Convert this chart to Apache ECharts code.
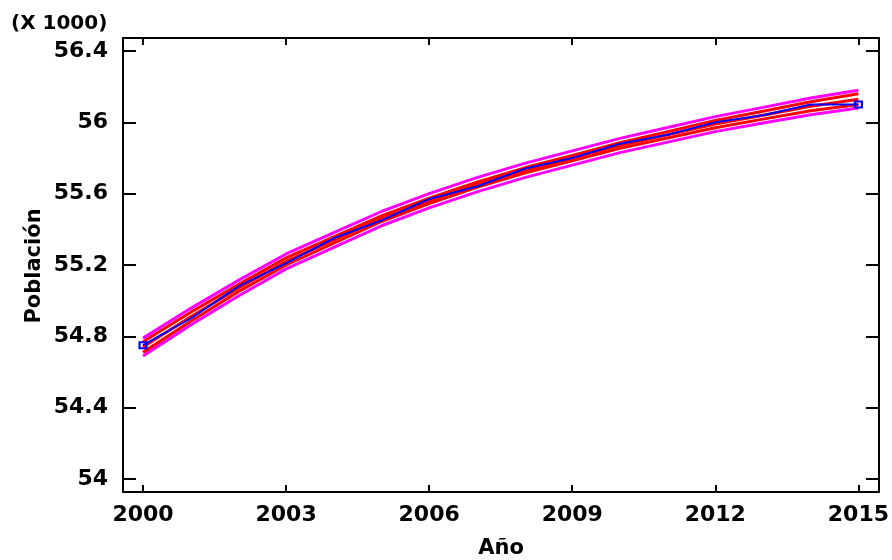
<!DOCTYPE html>
<html>
<head>
<meta charset="utf-8">
<script src="https://cdn.jsdelivr.net/npm/echarts@6/dist/echarts.min.js"></script>
<style>
  html, body { margin: 0; padding: 0; background: #fff; }
  #chart { width: 892px; height: 560px; }
</style>
</head>
<body>
<div id="chart"></div>
<script>
// años y valores (X 1000)
const years = [2000, 2001, 2002, 2003, 2004, 2005, 2006, 2007, 2008, 2009, 2010, 2011, 2012, 2013, 2014, 2015];
const observed = [54.75, 54.90, 55.08, 55.21, 55.35, 55.45, 55.57, 55.64, 55.74, 55.80, 55.88, 55.93, 56.00, 56.04, 56.10, 56.10];
const fitted = [54.74, 54.91, 55.07, 55.22, 55.34, 55.46, 55.56, 55.65, 55.73, 55.80, 55.87, 55.93, 55.99, 56.04, 56.09, 56.13];
const upperConf = [54.77, 54.935, 55.09, 55.24, 55.358, 55.476, 55.575, 55.665, 55.745, 55.815, 55.886, 55.948, 56.01, 56.062, 56.115, 56.16];
const lowerConf = [54.71, 54.885, 55.05, 55.20, 55.322, 55.444, 55.545, 55.635, 55.715, 55.785, 55.854, 55.912, 55.97, 56.018, 56.065, 56.10];
const upperPred = [54.79, 54.957, 55.114, 55.262, 55.381, 55.50, 55.60, 55.69, 55.77, 55.84, 55.91, 55.971, 56.032, 56.084, 56.137, 56.18];
const lowerPred = [54.69, 54.863, 55.026, 55.178, 55.299, 55.42, 55.52, 55.61, 55.69, 55.76, 55.83, 55.889, 55.948, 55.996, 56.043, 56.08];

const xTicks = [2000, 2003, 2006, 2009, 2012, 2015];
const yTicks = [54, 54.4, 54.8, 55.2, 55.6, 56, 56.4];

const font = 'DejaVu Sans';
const pair = arr => years.map((y, i) => [y, arr[i]]);

function line(name, arr, color, width, z) {
  return {
    name: name,
    type: 'line',
    data: pair(arr),
    showSymbol: false,
    symbol: 'none',
    lineStyle: { color: color, width: width },
    z: z,
    silent: true
  };
}

const chart = echarts.init(document.getElementById('chart'));
const option = {
  backgroundColor: '#ffffff',
  animation: false,
  grid: { left: 123, right: 9, top: 38, bottom: 68 },
  title: {
    text: '(X 1000)',
    left: 11, top: 14, padding: 0,
    textStyle: { fontFamily: font, fontWeight: 'bold', fontSize: 20, color: '#000' }
  },
  graphic: [
    {
      type: 'text', x: 35, y: 266, rotation: Math.PI / 2,
      style: { text: 'Población', fontFamily: font, fontWeight: 'bold', fontSize: 21,
        fill: '#000', align: 'center', verticalAlign: 'middle' }
    },
    {
      type: 'text', x: 501, y: 549,
      style: { text: 'Año', fontFamily: font, fontWeight: 'bold', fontSize: 21,
        fill: '#000', align: 'center', verticalAlign: 'middle' }
    }
  ],
  xAxis: [
    {
      type: 'value', min: 1999.58, max: 2015.43,
      axisLine: { lineStyle: { color: '#000', width: 2 } },
      axisTick: { inside: true, length: 7, customValues: xTicks, lineStyle: { color: '#000', width: 2 } },
      axisLabel: { customValues: xTicks, margin: 12, color: '#000', fontFamily: font, fontWeight: 'bold', fontSize: 22,
        formatter: v => String(Math.round(v)) },
      splitLine: { show: false }
    },
    {
      type: 'value', position: 'top', min: 1999.58, max: 2015.43,
      axisLine: { lineStyle: { color: '#000', width: 2 } },
      axisTick: { inside: true, length: 7, customValues: xTicks, lineStyle: { color: '#000', width: 2 } },
      axisLabel: { show: false },
      splitLine: { show: false }
    }
  ],
  yAxis: [
    {
      type: 'value', min: 53.927, max: 56.473,
      axisLine: { show: true, lineStyle: { color: '#000', width: 2 } },
      axisTick: { show: true, inside: true, length: 13, customValues: yTicks, lineStyle: { color: '#000', width: 2 } },
      axisLabel: { customValues: yTicks, margin: 15, color: '#000', fontFamily: font, fontWeight: 'bold', fontSize: 22,
        formatter: v => String(Math.round(v * 10) / 10) },
      splitLine: { show: false }
    },
    {
      type: 'value', position: 'right', min: 53.927, max: 56.473,
      axisLine: { show: true, lineStyle: { color: '#000', width: 2 } },
      axisTick: { show: true, inside: true, length: 13, customValues: yTicks, lineStyle: { color: '#000', width: 2 } },
      axisLabel: { show: false },
      splitLine: { show: false }
    }
  ],
  series: [
    line('Límite predicción sup.', upperPred, '#ff00ff', 3, 2),
    line('Límite predicción inf.', lowerPred, '#ff00ff', 3, 2),
    line('Límite confianza sup.', upperConf, '#ff0000', 3, 3),
    line('Límite confianza inf.', lowerConf, '#ff0000', 3, 3),
    line('Ajuste', fitted, '#ff0000', 3, 3),
    {
      name: 'Población',
      type: 'line',
      data: pair(observed),
      symbol: (v, p) => (p.dataIndex === 0 || p.dataIndex === years.length - 1) ? 'rect' : 'none',
      symbolSize: [7, 6],
      showSymbol: true,
      itemStyle: { color: 'rgba(0,0,0,0)', borderColor: '#0000ff', borderWidth: 2 },
      lineStyle: { color: '#0000ff', width: 2 },
      z: 4,
      silent: true
    }
  ]
};
chart.setOption(option);
</script>
</body>
</html>
